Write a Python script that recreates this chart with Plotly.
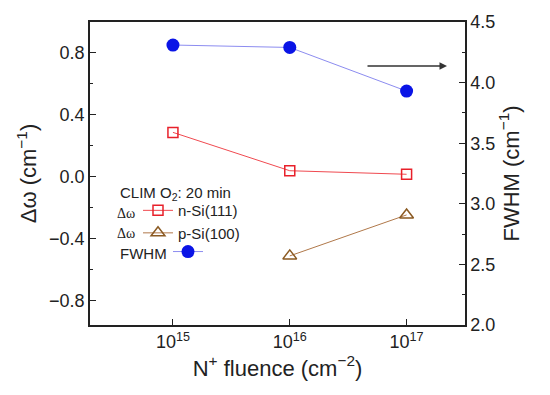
import plotly.graph_objects as go

fluence = [1e15, 1e16, 1e17]
fwhm = [4.31, 4.29, 3.93]
n_si_fluence = [1e15, 1e16, 1e17]
n_si_dw = [0.286, 0.038, 0.015]
p_si_fluence = [1e16, 1e17]
p_si_dw = [-0.513, -0.248]

x_tickvals = [1e15, 1e16, 1e17]
x_ticktext = ["10<sup>15</sup>", "10<sup>16</sup>", "10<sup>17</sup>"]

FONT = "Arial, Liberation Sans, sans-serif"
AX = "#222222"

fig = go.Figure()

fig.add_trace(go.Scatter(
    x=n_si_fluence, y=n_si_dw, mode="lines+markers", name="n-Si(111)",
    line=dict(color="#f04a50", width=1),
    marker=dict(symbol="square-open", size=10, color="#e8202a", line=dict(width=1.5)),
    legend="legend", yaxis="y"))
fig.add_trace(go.Scatter(
    x=p_si_fluence, y=p_si_dw, mode="lines+markers", name="p-Si(100)",
    line=dict(color="#b0784a", width=1),
    marker=dict(symbol="triangle-up-open", size=12, color="#8b5a22", line=dict(width=1.5)),
    legend="legend", yaxis="y"))
fig.add_trace(go.Scatter(
    x=fluence, y=fwhm, mode="lines+markers", name=" ",
    line=dict(color="#8c8cf0", width=1),
    marker=dict(symbol="circle", size=13, color="#0a14e6"),
    legend="legend2", yaxis="y2"))

axis_common = dict(showline=True, linecolor=AX, linewidth=1.5, ticks="inside",
                   ticklen=6, tickwidth=1.3, tickcolor=AX, showgrid=False, zeroline=False,
                   tickfont=dict(family=FONT, size=18, color=AX))

fig.update_layout(
    width=550, height=395,
    margin=dict(l=90, r=85, t=17, b=70),
    plot_bgcolor="white", paper_bgcolor="white",
    font=dict(family=FONT, color=AX),
    xaxis=dict(type="log", range=[14.29, 17.5], tickvals=x_tickvals, ticktext=x_ticktext,
               mirror=True,
               title=dict(text="N<sup>+</sup> fluence (cm<sup>−2</sup>)", font=dict(size=22), standoff=8),
               **axis_common),
    yaxis=dict(range=[-0.96, 1.0], tick0=0, dtick=0.4, tickformat=".1f",
               minor=dict(ticks="inside", ticklen=3, dtick=0.2, tick0=0, tickcolor=AX, tickwidth=1.3),
               title=dict(text="Δω (cm<sup>−1</sup>)", font=dict(size=22), standoff=6),
               **axis_common),
    yaxis2=dict(range=[2.0, 4.5], tick0=2, dtick=0.5, tickformat=".1f", overlaying="y", side="right",
                minor=dict(ticks="inside", ticklen=3, dtick=0.25, tick0=2, tickcolor=AX, tickwidth=1.3),
                title=dict(text="FWHM (cm<sup>−1</sup>)", font=dict(size=22), standoff=6),
                **axis_common),
    legend=dict(x=0.128, xanchor="left", y=0.432, yanchor="top", bgcolor="rgba(0,0,0,0)",
                font=dict(size=15, family=FONT, color=AX), tracegroupgap=0, itemwidth=30),
    legend2=dict(x=0.208, xanchor="left", y=0.296, yanchor="top", bgcolor="rgba(0,0,0,0)",
                 font=dict(size=15, family=FONT, color=AX), itemwidth=30),
    showlegend=True,
)

fig.add_annotation(xref="paper", yref="paper", x=0.075, y=(325 - 191) / 308, xanchor="left",
                   yanchor="middle", showarrow=False,
                   text="CLIM O<sub>2</sub>: 20 min", font=dict(size=15, family=FONT, color=AX))
for yy in [211.5, 231.5]:
    fig.add_annotation(xref="paper", yref="paper", x=0.097, y=(325 - yy) / 308, xanchor="center",
                       yanchor="middle", showarrow=False, text="Δω",
                       font=dict(size=14, family="Liberation Serif, Times New Roman, serif", color=AX))
fig.add_annotation(xref="paper", yref="paper", x=0.075, y=(325 - 252) / 308, xanchor="left",
                   yanchor="middle", showarrow=False, text="FWHM",
                   font=dict(size=15, family=FONT, color=AX))

fig.add_annotation(xref="paper", yref="paper", x=0.952, y=0.855, ax=-81, ay=0,
                   axref="pixel", ayref="pixel", showarrow=True, arrowhead=2, arrowsize=1,
                   arrowwidth=1.5, arrowcolor="#333333", text="")

fig.write_html("out.html", config={"displayModeBar": False},
               post_script="document.body.style.margin='0';")
